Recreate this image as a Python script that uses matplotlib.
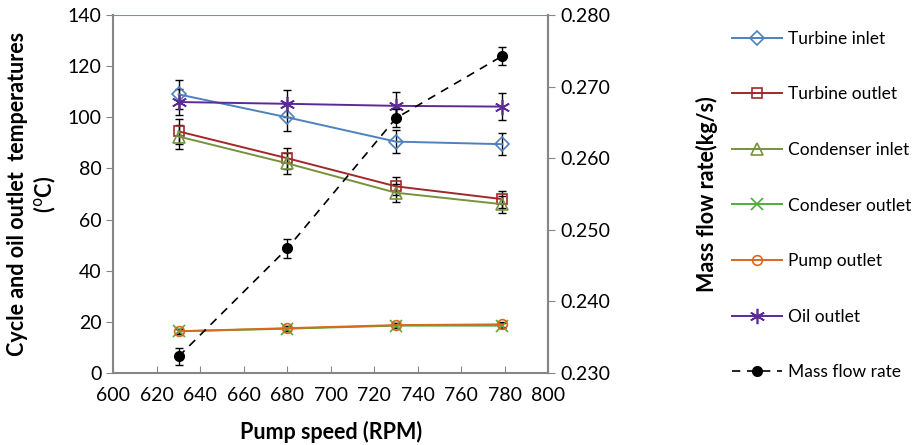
import matplotlib
matplotlib.use('Agg')
import matplotlib.pyplot as plt
from matplotlib.lines import Line2D

plt.rcParams['font.family'] = ['Lato', 'DejaVu Sans']

speed = [630, 680, 730, 779]

turbine_inlet = [109, 100, 90.5, 89.5]
turbine_outlet = [94.5, 84, 73, 68]
condenser_inlet = [92.5, 82, 70.5, 66]
condenser_outlet = [16.3, 17.3, 18.5, 18.5]
pump_outlet = [16.3, 17.5, 18.7, 19.0]
oil_outlet = [106, 105.3, 104.5, 104.2]
mass_flow = [0.2323, 0.2474, 0.2656, 0.2743]

err_turbine_inlet = [5.6, 5.2, 4.4, 4.4]
err_turbine_outlet = [5.0, 4.2, 3.5, 3.3]
err_condenser_inlet = [4.7, 4.2, 3.5, 3.3]
err_small = [1.0, 1.0, 1.0, 1.0]
err_oil = [5.0, 5.3, 5.3, 5.3]
err_mass = [0.0012, 0.0013, 0.0013, 0.0013]

series = [
    ('Turbine inlet', turbine_inlet, err_turbine_inlet, '#4F81BD', 'D', 7),
    ('Turbine outlet', turbine_outlet, err_turbine_outlet, '#A0292A', 's', 7),
    ('Condenser inlet', condenser_inlet, err_condenser_inlet, '#76923C', '^', 8),
    ('Condeser outlet', condenser_outlet, err_small, '#4EAE3C', 'x', 8),
    ('Pump outlet', pump_outlet, err_small, '#D9691E', 'o', 7),
    ('Oil outlet', oil_outlet, err_oil, '#5B2A97', (6, 2, 0), 11),
]

fig = plt.figure(figsize=(9.15, 4.45), dpi=100)
ax = fig.add_axes([0.124, 0.162, 0.475, 0.804])

handles = []
for name, vals, err, color, marker, ms in series:
    ax.errorbar(speed, vals, yerr=err, fmt='none', ecolor='black',
                elinewidth=1, capsize=3, zorder=2)
    ax.plot(speed, vals, color=color, lw=1.4, marker=marker, ms=ms,
            mfc='none', mec=color, mew=1.2, zorder=3)
    handles.append(Line2D([], [], color=color, lw=1.4, marker=marker, ms=ms,
                          mfc='none', mec=color, mew=1.2, label=name))

ax.set_xlim(600, 800)
ax.set_ylim(0, 140)
ax.set_xticks(range(600, 801, 20))
ax.set_yticks(range(0, 141, 20))
ax.axhline(140, color='#6C8EC6', lw=1.5, zorder=1)
for side in ['left', 'bottom', 'right']:
    ax.spines[side].set_color('#868686')
    ax.spines[side].set_linewidth(1.5)
ax.spines['top'].set_visible(False)
ax.tick_params(axis='x', direction='in', length=5, color='#868686', labelsize=14, pad=10)
ax.tick_params(axis='y', direction='out', length=5, color='#868686', labelsize=14)
ax.set_xlabel('Pump speed (RPM)', fontsize=15.5, fontweight='bold', labelpad=12)
ax.set_ylabel('Cycle and oil outlet  temperatures\n($^{\\mathrm{o}}$C)',
              fontsize=15.5, fontweight='bold', labelpad=7, linespacing=1.2)

ax2 = ax.twinx()
ax2.errorbar(speed, mass_flow, yerr=err_mass, fmt='none', ecolor='black',
             elinewidth=1, capsize=3, zorder=2)
ax2.plot(speed, mass_flow, color='black', lw=1.2, ls=(0, (5, 4)), marker='o',
         ms=7, zorder=3)
handles.append(Line2D([], [], color='black', lw=1.2, ls=(0, (5, 4)),
                      marker='o', ms=7, label='Mass flow rate'))
ax2.set_ylim(0.230, 0.280)
ax2.set_yticks([0.230, 0.240, 0.250, 0.260, 0.270, 0.280])
ax2.set_yticklabels(['%.3f' % v for v in ax2.get_yticks()])
for side in ['left', 'bottom', 'right', 'top']:
    ax2.spines[side].set_visible(False)
ax2.spines['right'].set_visible(True)
ax2.spines['right'].set_color('#868686')
ax2.spines['right'].set_linewidth(1.5)
ax2.tick_params(axis='y', direction='out', length=5, color='#868686', labelsize=14)
ax2.set_ylabel('Mass flow rate(kg/s)', fontsize=15.5, fontweight='bold', labelpad=62)

fig.legend(handles=handles, loc='upper left', bbox_to_anchor=(0.783, 0.966),
           frameon=False, fontsize=12.5, labelspacing=2.28, handlelength=2.9,
           handletextpad=0.3)

fig.savefig('out.png', dpi=100)
